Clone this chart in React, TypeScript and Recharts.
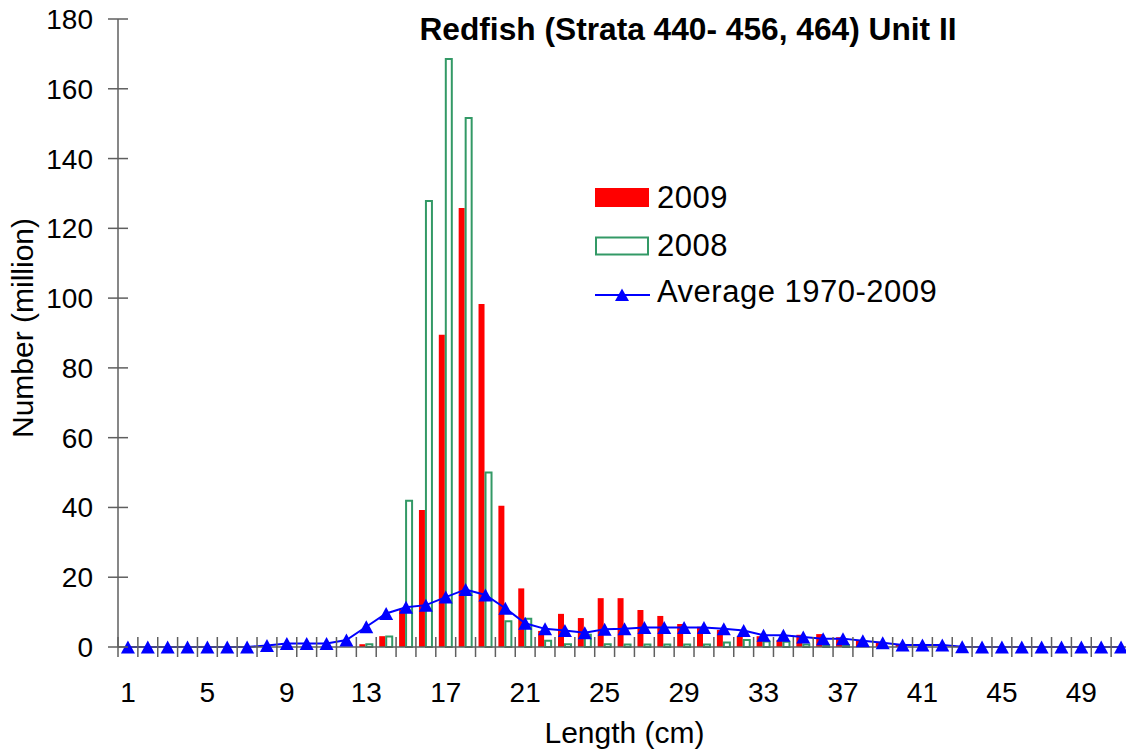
import React from "react";
import {
  ComposedChart,
  Bar,
  Line,
  XAxis,
  YAxis,
  Legend,
} from "recharts";

const FONT = '"Liberation Sans", Arial, sans-serif';
const AXIS_COLOR = "#5f5f5f";

// length classes (cm)
const lengths = Array.from({ length: 51 }, (_, i) => i + 1);

const catch2009 = [
  0, 0, 0, 0.3, 0.3, 0, 0, 0, 0, 0,
  0, 0, 0.8, 3.1, 10.6, 39.3, 89.5, 125.8, 98.3, 40.5,
  16.8, 4.6, 9.5, 8.3, 14, 14, 10.6, 8.9, 6.6, 5.8,
  4.9, 3.0, 3.1, 2.0, 3.5, 3.7, 2.8, 2.0, 1.5, 0.8,
  0, 0, 0, 0, 0, 0, 0, 0, 0, 0, 0,
];

const catch2008 = [
  0, 0, 0, 0, 0, 0, 0, 0, 0, 0,
  0, 0, 0.8, 3.0, 41.9, 127.8, 168.5, 151.6, 50.0, 7.4,
  8.1, 1.8, 0.8, 3.5, 0.8, 0.7, 0.7, 0.7, 0.7, 0.7,
  1.3, 2.0, 1.6, 1.5, 0.7, 0.5, 0.5, 0, 0, 0,
  0, 0, 0, 0, 0, 0, 0, 0, 0, 0, 0,
];

const average = [
  0, 0, 0, 0, 0, 0, 0, 0.4, 1.0, 1.0,
  1.0, 2.0, 5.8, 9.6, 11.4, 12.0, 14.3, 16.5, 14.9, 11.1,
  6.8, 5.2, 4.7, 4.1, 5.1, 5.2, 5.6, 5.6, 5.6, 5.6,
  5.2, 4.7, 3.4, 3.4, 2.9, 2.4, 2.4, 1.8, 1.2, 0.6,
  0.6, 0.6, 0.1, 0, 0, 0, 0, 0, 0, 0, 0,
];

const yTicks = [0, 20, 40, 60, 80, 100, 120, 140, 160, 180];

const data = lengths.map((len, i) => ({
  len,
  y2009: catch2009[i],
  y2008: catch2008[i],
  avg: average[i],
}));

// layout
const CHART_W = 1140;
const CHART_H = 750;
const PLOT_LEFT = 118;
const PLOT_TOP = 19;
const PLOT_BOTTOM = 647;
const MARGIN_RIGHT = 9;
const BAND = (CHART_W - PLOT_LEFT - MARGIN_RIGHT) / lengths.length;

const XTick = (props: any) => {
  const { x, payload } = props;
  const v = Number(payload.value);
  const edge = x - BAND / 2;
  return (
    <g>
      <line x1={edge} x2={edge} y1={PLOT_BOTTOM - 10} y2={PLOT_BOTTOM + 10} stroke={AXIS_COLOR} strokeWidth={1.5} />
      {(v - 1) % 4 === 0 && (
        <text x={x} y={PLOT_BOTTOM + 55} textAnchor="middle" fontSize={28} fontFamily={FONT} fill="#000">
          {v}
        </text>
      )}
    </g>
  );
};

const YTick = (props: any) => {
  const { y, payload } = props;
  return (
    <g>
      <line x1={PLOT_LEFT - 10} x2={PLOT_LEFT + 10} y1={y} y2={y} stroke={AXIS_COLOR} strokeWidth={1.5} />
      <text x={93} y={y + 10} textAnchor="end" fontSize={28} fontFamily={FONT} fill="#000">
        {payload.value}
      </text>
    </g>
  );
};

const TriangleDot = (props: any) => {
  const { cx, cy, index } = props;
  if (cx == null || cy == null) return <g key={`t-${index}`} />;
  return (
    <polygon
      key={`t-${index}`}
      points={`${cx},${cy - 6.5} ${cx - 7},${cy + 6.5} ${cx + 7},${cy + 6.5}`}
      fill="#0000FF"
    />
  );
};

const LegendBox = () => (
  <svg width={420} height={150} style={{ display: "block" }}>
    <rect x={5} y={18} width={54} height={19} fill="#FF0000" />
    <text x={67} y={38} fontSize={31} letterSpacing={0.5} fontFamily={FONT} fill="#000">2009</text>
    <rect x={6} y={67.5} width={52} height={17} fill="#fff" stroke="#339966" strokeWidth={2} />
    <text x={67} y={86} fontSize={31} letterSpacing={0.5} fontFamily={FONT} fill="#000">2008</text>
    <line x1={5} x2={60} y1={125} y2={125} stroke="#0000FF" strokeWidth={2} />
    <polygon points="32,118.5 25,131 39,131" fill="#0000FF" />
    <text x={67} y={132} fontSize={31} letterSpacing={0.5} fontFamily={FONT} fill="#000">Average 1970-2009</text>
  </svg>
);

export default function App() {
  return (
    <div style={{ position: "absolute", left: 0, top: 0, width: 1126, height: 750, overflow: "hidden", background: "#fff" }}>
      <ComposedChart
        width={CHART_W}
        height={CHART_H}
        data={data}
        margin={{ top: PLOT_TOP, right: MARGIN_RIGHT, bottom: 0, left: 0 }}
        barSize={6}
        barGap={1}
      >
        <XAxis
          dataKey="len"
          type="category"
          height={CHART_H - PLOT_BOTTOM}
          interval={0}
          tickLine={false}
          tick={<XTick />}
          stroke={AXIS_COLOR}
          strokeWidth={1.5}
          label={{
            value: "Length (cm)",
            position: "insideBottom",
            offset: 7,
            style: { fontSize: 30, fontFamily: FONT, fill: "#000" },
          }}
        />
        <YAxis
          width={PLOT_LEFT}
          domain={[0, 180]}
          ticks={yTicks}
          interval={0}
          tickLine={false}
          tick={<YTick />}
          stroke={AXIS_COLOR}
          strokeWidth={1.5}
          label={{
            content: () => (
              <text
                x={33}
                y={328}
                transform="rotate(-90 33 328)"
                textAnchor="middle"
                fontSize={30}
                fontFamily={FONT}
                fill="#000"
              >
                Number (million)
              </text>
            ),
          }}
        />
        <Legend
          layout="horizontal"
          verticalAlign="middle"
          align="center"
          wrapperStyle={{ position: "absolute", left: 590, top: 170, width: 420, height: 150 }}
          content={() => <LegendBox />}
        />
        <Bar dataKey="y2009" name="2009" fill="#FF0000" isAnimationActive={false} />
        <Bar dataKey="y2008" name="2008" fill="#FFFFFF" stroke="#339966" strokeWidth={2} isAnimationActive={false} />
        <Line
          dataKey="avg"
          name="Average 1970-2009"
          type="linear"
          stroke="#0000FF"
          strokeWidth={2}
          dot={<TriangleDot />}
          isAnimationActive={false}
        />
      </ComposedChart>
      <svg width={1126} height={60} style={{ position: "absolute", left: 0, top: 0, pointerEvents: "none" }}>
        <text x={688} y={39.5} textAnchor="middle" fontSize={31.7} fontWeight="bold" fontFamily={FONT} fill="#000">
          Redfish (Strata 440- 456, 464) Unit II
        </text>
      </svg>
    </div>
  );
}
